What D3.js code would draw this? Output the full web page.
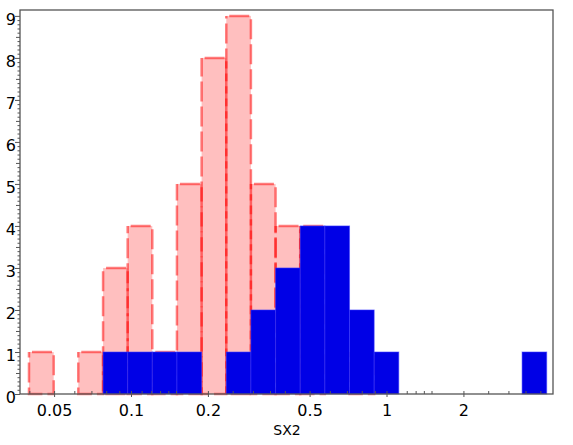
<!DOCTYPE html>
<html>
<head>
<meta charset="utf-8">
<script src="https://cdn.jsdelivr.net/npm/d3@7"></script>
<style>
  html, body { margin: 0; padding: 0; background: #fff; }
  svg { display: block; }
  text { font-family: "DejaVu Sans", "Liberation Sans", Arial, sans-serif; fill: #000; }
</style>
</head>
<body>
<svg id="chart" width="573" height="445"></svg>
<script>
// Bin edges (log-spaced)
const binEdges = [0.0397, 0.0496, 0.0619, 0.0774, 0.0966, 0.1206, 0.1506, 0.1881, 0.2349, 0.2933,
                  0.3663, 0.4574, 0.5712, 0.7133, 0.8907, 1.112, 1.389, 1.734, 2.166, 2.705, 3.378, 4.217];
// Counts per bin
const pinkCounts = [1, 0, 1, 3, 4, 1, 5, 8, 9, 5, 4, 4, 0, 1, 0, 0, 0, 0, 0, 0, 0];
const blueCounts = [0, 0, 0, 1, 1, 1, 1, 0, 1, 2, 3, 4, 4, 2, 1, 0, 0, 0, 0, 0, 1];
// Axis ticks
const xMajorTicks = [0.05, 0.1, 0.2, 0.5, 1, 2];
const xMajorLabels = ["0.05", "0.1", "0.2", "0.5", "1", "2"];
const xMinorTicks = [0.04, 0.06, 0.07, 0.08, 0.09, 0.11, 0.12, 0.13, 0.14, 0.15, 0.25, 0.3, 0.35, 0.4,
                     0.6, 0.7, 0.8, 0.9, 1.2, 1.3, 1.4, 1.5, 2.5, 3, 3.5, 4];
const yMajorTicks = [0, 1, 2, 3, 4, 5, 6, 7, 8, 9];
const xTitle = "SX2";

const svg = d3.select("#chart");
const mLeft = 20, mRight = 553, mTop = 10, mBottom = 394;

const x = d3.scaleLog().domain([0.03661, 4.463]).range([mLeft, mRight]);
const y = d3.scaleLinear().domain([0, 9.14]).range([mBottom, mTop]);

const bins = (counts) => counts.map((c, i) => ({ x0: binEdges[i], x1: binEdges[i + 1], c }))
                               .filter(d => d.c > 0);

// Pink histogram
svg.append("g").selectAll("rect").data(bins(pinkCounts)).join("rect")
  .attr("x", d => x(d.x0))
  .attr("width", d => x(d.x1) - x(d.x0))
  .attr("y", d => y(d.c))
  .attr("height", d => y(0) - y(d.c))
  .attr("fill", "rgba(255,0,0,0.25)")
  .attr("stroke", "rgba(255,0,0,0.5)")
  .attr("stroke-width", 2.5)
  .attr("stroke-dasharray", "20,5")
  .attr("stroke-dashoffset", -3);

// Blue histogram
svg.append("g").selectAll("rect").data(bins(blueCounts)).join("rect")
  .attr("x", d => x(d.x0))
  .attr("width", d => x(d.x1) - x(d.x0))
  .attr("y", d => y(d.c))
  .attr("height", d => y(0) - y(d.c))
  .attr("fill", "#0000e6")
  .attr("stroke", "rgba(60,60,255,0.55)")
  .attr("stroke-width", 1);

// Frame
const axisColor = "#555";
svg.append("rect")
  .attr("x", mLeft).attr("y", mTop)
  .attr("width", mRight - mLeft).attr("height", mBottom - mTop)
  .attr("fill", "none").attr("stroke", axisColor).attr("stroke-width", 1.3);

// Y axis ticks (outward, left)
const yAxis = svg.append("g");
const yMinor = d3.range(0, 91).map(i => i / 10);
yAxis.selectAll("line.minor").data(yMinor).join("line")
  .attr("class", "minor")
  .attr("x1", d => mLeft - (d % 1 === 0 ? 5 : (Math.abs(d % 1 - 0.5) < 1e-9 ? 4 : 2.5)))
  .attr("x2", mLeft)
  .attr("y1", d => y(d) + 0.5).attr("y2", d => y(d) + 0.5)
  .attr("stroke", axisColor).attr("stroke-width", 1);
yAxis.selectAll("text").data(yMajorTicks).join("text")
  .attr("x", mLeft - 4)
  .attr("y", d => y(d) + 9)
  .attr("text-anchor", "end")
  .attr("font-size", 16)
  .text(d => d);

// X axis ticks
const xAxis = svg.append("g");
xAxis.selectAll("line.minor").data(xMinorTicks).join("line")
  .attr("x1", d => x(d)).attr("x2", d => x(d))
  .attr("y1", mBottom).attr("y2", mBottom - 3)
  .attr("stroke", axisColor).attr("stroke-width", 1);
xAxis.selectAll("line.major").data(xMajorTicks).join("line")
  .attr("x1", d => x(d)).attr("x2", d => x(d))
  .attr("y1", mBottom + 3).attr("y2", mBottom - 3)
  .attr("stroke", axisColor).attr("stroke-width", 1);
xAxis.selectAll("text").data(xMajorTicks).join("text")
  .attr("x", d => x(d))
  .attr("y", 416)
  .attr("text-anchor", "middle")
  .attr("font-size", 16)
  .text((d, i) => xMajorLabels[i]);

svg.append("text")
  .attr("x", 287).attr("y", 435)
  .attr("text-anchor", "middle")
  .attr("font-size", 14)
  .text(xTitle);
</script>
</body>
</html>
